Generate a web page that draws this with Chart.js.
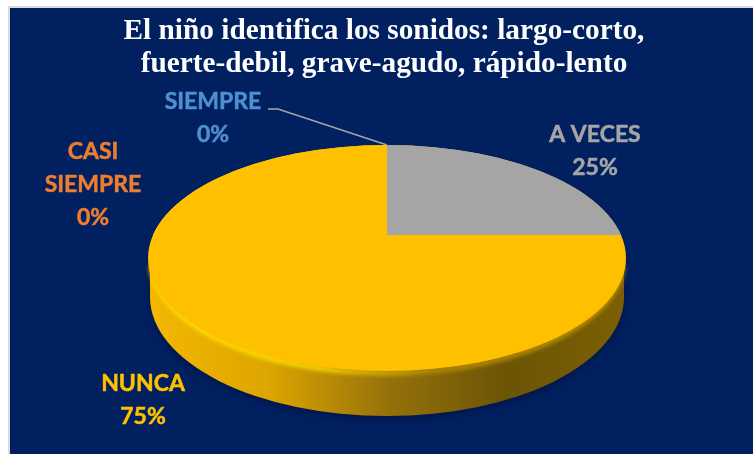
<!DOCTYPE html>
<html>
<head>
<meta charset="utf-8">
<script src="https://cdn.jsdelivr.net/npm/chart.js@4"></script>
<style>
    html, body { margin: 0; padding: 0; background: #fff; overflow: hidden; }
    #frame { position: absolute; left: 8px; top: 6px; right: 0; bottom: 0; background: #002060; border-left: 2px solid #d9d9d9; border-top: 2px solid #d9d9d9; }
    #wrap { position: absolute; left: 0; top: 0; width: 753px; height: 454px; }
</style>
</head>
<body>
<div id="frame"></div>
<div id="wrap"><canvas id="pieChart"></canvas></div>
<script>
// --- data ---
const categories = [['SIEMPRE'], ['CASI', 'SIEMPRE'], ['A VECES'], ['NUNCA']];
const percentValues = [0, 0, 25, 75];
const sliceColors = ['#5B9BD5', '#ED7D31', '#A5A5A5', '#FFC000'];
const labelColors = ['#4F8FD0', '#ED7D31', '#A5A5A5', '#FFC000'];
const titleLines = ['El niño identifica los sonidos: largo-corto,', 'fuerte-debil, grave-agudo, rápido-lento'];

// --- layout of the tilted pie and its labels ---
const disc = { x: 387, y: 258, rx: 239, ry: 113, apexY: 235, depth: 44 };
const labelSpots = [
    { x: 213, y: 102 },
    { x: 93, y: 152 },
    { x: 595, y: 135 },
    { x: 143, y: 384 }
];
const labelLineHeight = 33;

// Side wall and the base of the top face, sized from the library's arc
const tiltPlugin = {
    id: 'tilt',
    beforeDatasetsDraw(chart) {
        const ctx = chart.ctx;
        const arc = chart.getDatasetMeta(0).data[0];
        const R = arc.outerRadius;

        // wall
        const wall = ctx.createLinearGradient(disc.x - disc.rx, 0, disc.x + disc.rx, 0);
        wall.addColorStop(0, '#F4B800');
        wall.addColorStop(0.25, '#DDA600');
        wall.addColorStop(0.5, '#96720A');
        wall.addColorStop(0.75, '#6C5406');
        wall.addColorStop(1, '#7C6004');
        ctx.save();
        ctx.shadowColor = 'rgba(0, 10, 50, 0.6)';
        ctx.shadowBlur = 10;
        ctx.shadowOffsetY = 2;
        ctx.fillStyle = wall;
        ctx.beginPath();
        ctx.ellipse(disc.x, disc.y + disc.depth - 5, disc.rx - 2, disc.ry + 6, 0, 0, Math.PI);
        ctx.lineTo(disc.x - disc.rx + 2, disc.y);
        ctx.lineTo(disc.x + disc.rx - 2, disc.y);
        ctx.closePath();
        ctx.fill();
        ctx.restore();

        // soft rim between wall and top face, bright on the left, dull on the right
        const rim = ctx.createLinearGradient(disc.x - disc.rx, 0, disc.x + disc.rx, 0);
        rim.addColorStop(0, '#FFE000');
        rim.addColorStop(0.35, '#FFDC00');
        rim.addColorStop(0.6, '#B08A00');
        rim.addColorStop(1, '#C09600');
        ctx.save();
        ctx.filter = 'blur(2px)';
        ctx.strokeStyle = rim;
        ctx.lineWidth = 5;
        ctx.beginPath();
        ctx.ellipse(disc.x, disc.y + 2, disc.rx - 3, disc.ry, 0, 0.05, Math.PI - 0.05);
        ctx.stroke();
        ctx.restore();

        // top face
        ctx.save();
        ctx.filter = 'blur(0.6px)';
        ctx.fillStyle = sliceColors[3];
        ctx.beginPath();
        ctx.ellipse(disc.x, disc.y, disc.rx, disc.ry, 0, 0, Math.PI * 2);
        ctx.fill();
        ctx.restore();

        // library slices, squashed, upper part only (apex sits above the ellipse centre)
        ctx.save();
        ctx.beginPath();
        ctx.rect(0, 0, chart.width, disc.apexY);
        ctx.clip();
        ctx.translate(disc.x, disc.y);
        ctx.scale(disc.rx / R, disc.ry / R);
        ctx.translate(-arc.x, -arc.y);
    },
    afterDatasetsDraw(chart) {
        chart.ctx.restore();
    },
    afterDraw(chart) {
        const ctx = chart.ctx;

        // leader line of SIEMPRE
        ctx.save();
        ctx.strokeStyle = '#A6A6A6';
        ctx.lineWidth = 1.5;
        ctx.beginPath();
        ctx.moveTo(268, 109);
        ctx.lineTo(278, 109);
        ctx.lineTo(387, 145);
        ctx.stroke();
        ctx.restore();

        // category + percent labels
        ctx.save();
        ctx.font = 'bold 23px Lato';
        ctx.textAlign = 'center';
        ctx.textBaseline = 'middle';
        ctx.lineWidth = 0.5;
        categories.forEach((lines, i) => {
            ctx.fillStyle = labelColors[i];
            ctx.strokeStyle = labelColors[i];
            const rows = lines.concat(percentValues[i] + '%');
            rows.forEach((row, r) => {
                const y = labelSpots[i].y + r * labelLineHeight;
                ctx.fillText(row, labelSpots[i].x, y);
                ctx.strokeText(row, labelSpots[i].x, y);
            });
        });
        ctx.restore();
    }
};

new Chart(document.getElementById('pieChart'), {
    type: 'pie',
    data: {
        labels: categories.map(c => c.join(' ')),
        datasets: [{
            data: percentValues,
            backgroundColor: sliceColors,
            borderWidth: 0,
            clip: false
        }]
    },
    options: {
        responsive: true,
        maintainAspectRatio: false,
        animation: false,
        events: [],
        layout: { padding: { left: 15 } },
        plugins: {
            legend: { display: false },
            tooltip: { enabled: false },
            title: {
                display: true,
                text: titleLines,
                color: '#ffffff',
                font: { family: '"Liberation Serif"', weight: 'bold', size: 29.3, lineHeight: 1.13 },
                padding: { top: 15, bottom: 8 }
            }
        }
    },
    plugins: [tiltPlugin]
});
</script>
</body>
</html>
